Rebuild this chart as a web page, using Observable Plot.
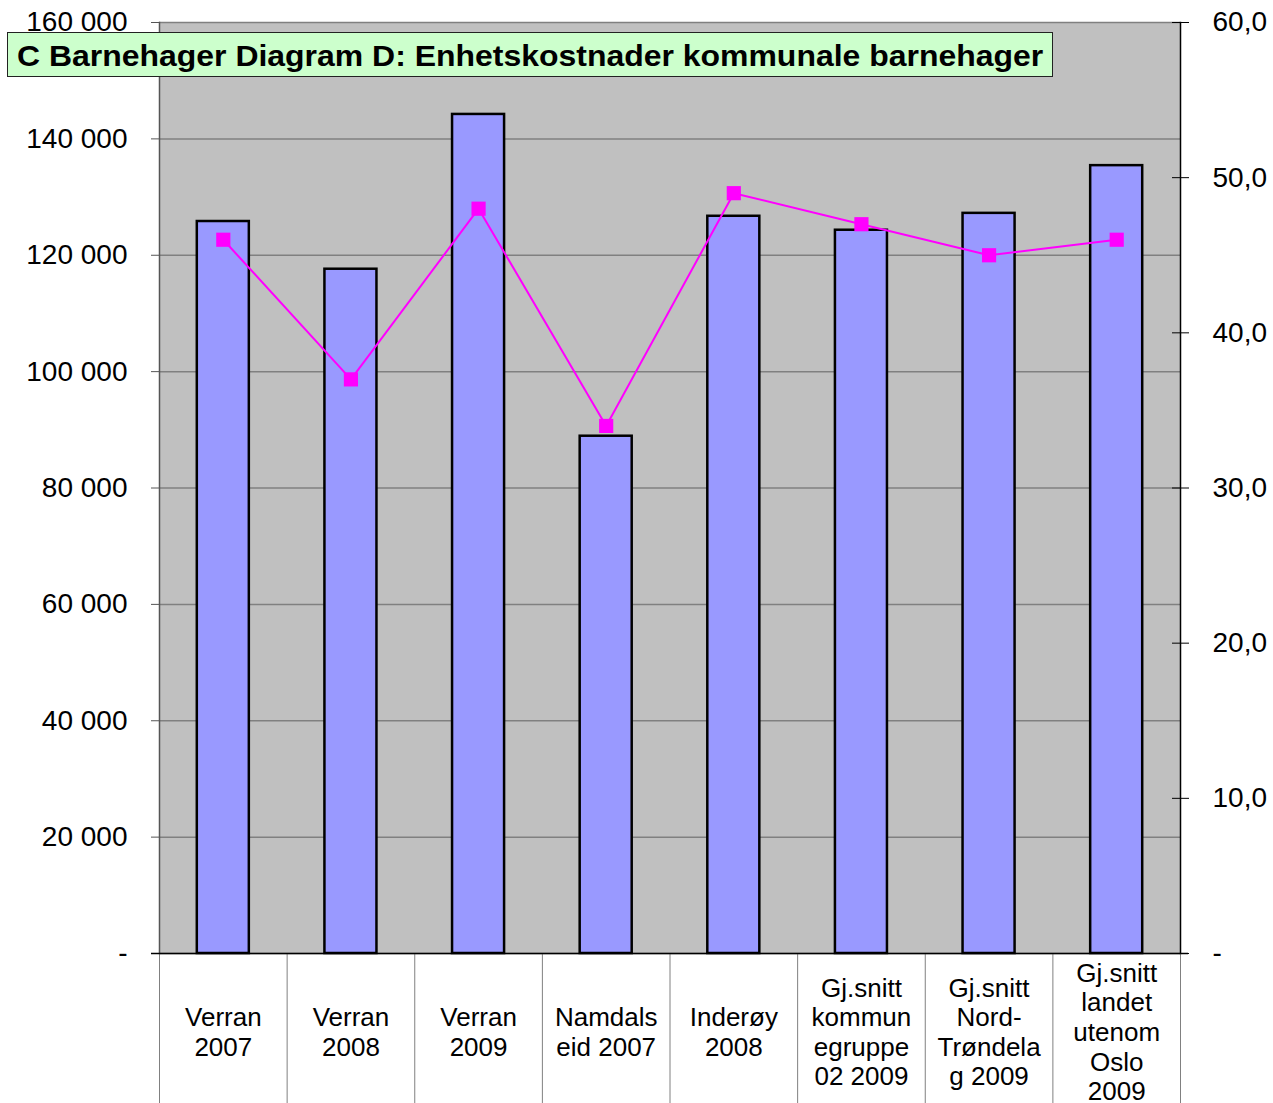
<!DOCTYPE html>
<html>
<head>
<meta charset="utf-8">
<script src="https://cdn.jsdelivr.net/npm/d3@7"></script>
<script src="https://cdn.jsdelivr.net/npm/@observablehq/plot@0.6"></script>
<style>
  html, body { margin: 0; padding: 0; background: #fff; }
  #wrap { position: relative; width: 1273px; height: 1103px; font-family: "Liberation Sans", Arial, sans-serif; }
  #title {
    position: absolute; left: 7px; top: 32px; width: 1044px; height: 43px;
    background: #CCFFCC; border: 1px solid #222; box-sizing: content-box;
    font-weight: bold; font-size: 29.5px;
    white-space: nowrap; color: #000;
  }
  #title span { position: absolute; left: 9px; top: 5px; line-height: 36px; transform: scaleX(1.083); transform-origin: 0 50%; }
</style>
</head>
<body>
<div id="wrap">
  <div id="chart"></div>
  <div id="title"><span>C Barnehager Diagram D: Enhetskostnader kommunale barnehager</span></div>
</div>
<script>
const categories = [
  "Verran\n2007",
  "Verran\n2008",
  "Verran\n2009",
  "Namdals\neid 2007",
  "Inderøy\n2008",
  "Gj.snitt\nkommun\negruppe\n02 2009",
  "Gj.snitt\nNord-\nTrøndela\ng 2009",
  "Gj.snitt\nlandet\nutenom\nOslo\n2009"
];
const costs = [125800, 117600, 144200, 88900, 126700, 124300, 127200, 135400];
const rightValues = [46.0, 37.0, 48.0, 34.0, 49.0, 47.0, 45.0, 46.0];
const leftTicks = [0, 20000, 40000, 60000, 80000, 100000, 120000, 140000, 160000];
const rightTicks = [0, 10, 20, 30, 40, 50, 60];
const leftMax = 160000, rightMax = 60;
const k = leftMax / rightMax;

const data = categories.map((c, i) => ({cat: c, cost: costs[i], right: rightValues[i] * k}));

const fmtLeft = d => d === 0 ? "-" : d3.format(",")(d).replace(/,/g, " ");
const fmtRight = d => { const v = d / k; return v < 1e-9 ? "-" : v.toFixed(1).replace(".", ","); };

const lastCat = categories[categories.length - 1];
const step = (1273 - 159 - 93) / categories.length;

const chart = Plot.plot({
  width: 1273,
  height: 1103,
  marginTop: 22,
  marginBottom: 150,
  marginLeft: 159,
  marginRight: 93,
  style: {fontFamily: "'Liberation Sans', Arial, sans-serif", background: "transparent", color: "#000"},
  x: {domain: categories, padding: 0, round: false, axis: null},
  y: {domain: [0, leftMax], axis: null},
  marks: [
    Plot.frame({fill: "#C0C0C0", stroke: null}),
    Plot.gridY(leftTicks, {stroke: "#808080", strokeOpacity: 1, strokeWidth: 1.5}),
    Plot.frame({anchor: "left", stroke: "#555", strokeWidth: 1.5}),
    Plot.frame({anchor: "right", stroke: "#000", strokeWidth: 1.5}),
    Plot.axisY({anchor: "left", ticks: leftTicks, tickFormat: fmtLeft, tickSize: 8, tickPadding: 24, fontSize: 28, label: null, stroke: "#555"}),
    Plot.axisY({anchor: "right", ticks: rightTicks.map(t => t * k), tickFormat: fmtRight, tickSize: 8, tickPadding: 24, fontSize: 28, label: null, textAnchor: "start"}),
    Plot.axisY({anchor: "right", ticks: rightTicks.map(t => t * k), tickFormat: () => "", tickSize: 9, dx: -9, label: null}),
    Plot.axisX({anchor: "bottom", tickSize: 150, dx: -step / 2, tickFormat: () => "", stroke: "#808080", label: null}),
    Plot.axisX({anchor: "bottom", ticks: [lastCat], tickSize: 150, dx: step / 2, tickFormat: () => "", stroke: "#808080", label: null}),
    Plot.axisX({anchor: "bottom", tickSize: 0, tickPadding: 78, lineAnchor: "middle", fontSize: 26, lineHeight: 1.14, label: null}),
    Plot.barY(data, {x: "cat", y: "cost", fill: "#9999FF", stroke: "#000", strokeWidth: 2.5, insetLeft: 37.8, insetRight: 37.8}),
    Plot.ruleY([0], {stroke: "#000", strokeWidth: 1.5, insetLeft: -8, insetRight: -8}),
    Plot.line(data, {x: "cat", y: "right", stroke: "#FF00FF", strokeWidth: 2}),
    Plot.dot(data, {x: "cat", y: "right", symbol: "square", r: 8, fill: "#FF00FF", stroke: null})
  ]
});
document.getElementById("chart").appendChild(chart);
</script>
</body>
</html>
